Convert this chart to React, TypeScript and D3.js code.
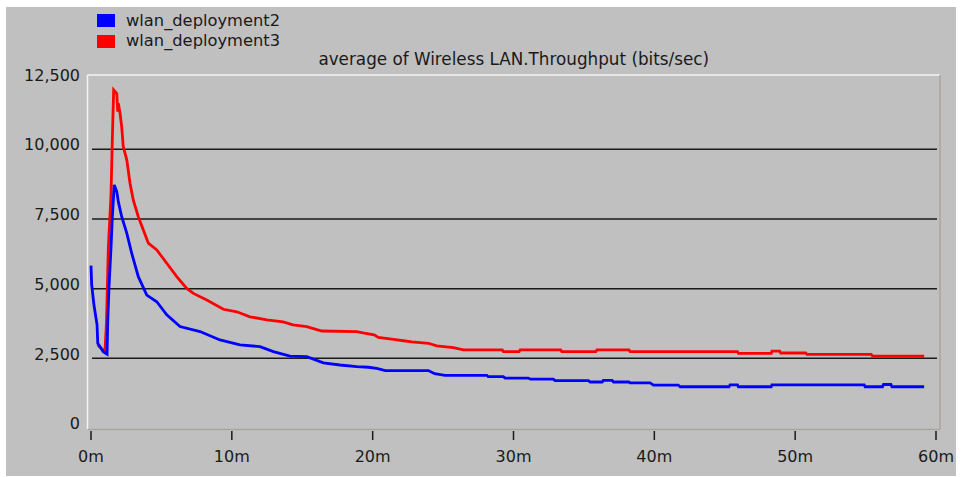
import React from 'react';
import * as d3 from 'd3';

// Throughput samples (minutes, bits/sec)
const deployment2Time = [0, 0.05, 0.21, 0.43, 0.48, 0.87, 1.14, 1.19, 1.28, 1.42, 1.51, 1.65, 1.83, 1.94, 2.18, 2.54, 2.89, 3.36, 3.96, 4.67, 5.38, 6.32, 7.74, 9.16, 10.58, 12.0, 12.95, 14.13, 15.32, 16.5, 17.68, 18.87, 19.7, 20.29, 20.9, 23.96, 24.4, 25.14, 28.1, 28.2, 29.28, 29.4, 31.06, 31.2, 32.83, 32.95, 35.32, 35.45, 36.3, 36.38, 37.0, 37.1, 38.2, 38.28, 39.7, 39.94, 41.7, 41.83, 45.3, 45.38, 45.9, 45.97, 48.3, 48.35, 54.9, 54.97, 56.2, 56.27, 56.8, 56.87, 59.16];
const deployment2Value = [5825, 5130, 4410, 3700, 3040, 2740, 2650, 3810, 5070, 6450, 7530, 8720, 8480, 8120, 7580, 6990, 6270, 5430, 4770, 4530, 4060, 3640, 3460, 3160, 2980, 2920, 2740, 2580, 2560, 2340, 2260, 2200, 2180, 2140, 2060, 2060, 1950, 1890, 1890, 1840, 1840, 1790, 1790, 1750, 1750, 1700, 1700, 1650, 1650, 1710, 1710, 1650, 1650, 1620, 1620, 1540, 1540, 1480, 1480, 1550, 1550, 1480, 1480, 1550, 1550, 1480, 1480, 1560, 1560, 1480, 1480];

const deployment3Time = [0.48, 0.99, 1.1, 1.13, 1.23, 1.42, 1.51, 1.61, 1.83, 1.9, 1.94, 2.06, 2.18, 2.29, 2.54, 2.77, 3.0, 3.36, 3.71, 4.07, 4.67, 5.38, 6.09, 6.8, 7.27, 8.22, 9.4, 10.35, 11.29, 12.48, 13.64, 14.35, 15.32, 16.39, 18.87, 19.4, 20.1, 20.41, 21.47, 22.2, 22.78, 23.96, 24.55, 25.73, 26.44, 29.2, 29.28, 30.4, 30.47, 33.35, 33.43, 35.85, 35.92, 38.2, 38.28, 45.9, 45.97, 48.3, 48.35, 48.9, 48.97, 50.75, 50.83, 55.4, 55.5, 59.16];
const deployment3Value = [2980, 2730, 3800, 4400, 6450, 8360, 10270, 12130, 12000, 11350, 11650, 11300, 10810, 10100, 9620, 8780, 8180, 7580, 7110, 6630, 6390, 5910, 5430, 5010, 4830, 4590, 4260, 4170, 3990, 3880, 3810, 3700, 3640, 3480, 3460, 3400, 3340, 3250, 3180, 3130, 3090, 3040, 2950, 2880, 2800, 2800, 2740, 2740, 2800, 2800, 2740, 2740, 2800, 2800, 2740, 2740, 2680, 2680, 2760, 2760, 2690, 2690, 2640, 2640, 2580, 2580];

const seriesNames = ['wlan_deployment2', 'wlan_deployment3'];
const seriesColors = ['#0000ff', '#ff0000'];
const yTicks = [0, 2500, 5000, 7500, 10000, 12500];
const xTicks = [0, 10, 20, 30, 40, 50, 60];
const title = 'average of Wireless LAN.Throughput (bits/sec)';

const W = 961;
const H = 477;
const font = '"DejaVu Sans", Verdana, sans-serif';

export default function App() {
  const frame = { left: 87.5, top: 75, right: 940, bottom: 429.5 };
  const x = d3.scaleLinear().domain([0, 60]).range([91, 936]);
  const y = d3.scaleLinear().domain([0, 12500]).range([428, 79.6]);

  const line = d3.line<[number, number]>()
    .x(d => x(d[0]))
    .y(d => y(d[1]));

  const blue = deployment2Time.map((t, i) => [t, deployment2Value[i]] as [number, number]);
  const red = deployment3Time.map((t, i) => [t, deployment3Value[i]] as [number, number]);

  const fmt = d3.format(',');

  return (
    <svg width={W} height={H} style={{ position: 'absolute', left: 0, top: 0, background: '#fff' }}>
      <rect x={6} y={7} width={950} height={469} fill="#c0c0c0" />

      {/* legend */}
      {seriesNames.map((name, i) => (
        <g key={name}>
          <rect x={97} y={14 + i * 21} width={18} height={13} fill={seriesColors[i]} />
          <text x={126} y={26 + i * 20} fontFamily={font} fontSize={16.3} fill="#1a1a1a">{name}</text>
        </g>
      ))}

      <text x={(frame.left + frame.right) / 2} y={65} textAnchor="middle" fontFamily={font} fontSize={16.8} fill="#1a1a1a">{title}</text>

      {/* plot frame */}
      <line x1={frame.left} x2={frame.right} y1={frame.top} y2={frame.top} stroke="#f4f4f4" strokeWidth={1.5} />
      <line x1={frame.left} x2={frame.left} y1={frame.top} y2={frame.bottom} stroke="#f4f4f4" strokeWidth={1.5} />
      <line x1={frame.right} x2={frame.right} y1={frame.top} y2={frame.bottom} stroke="#a8a69c" strokeWidth={1.5} />
      <line x1={frame.left} x2={frame.right} y1={frame.bottom} y2={frame.bottom} stroke="#a8a69c" strokeWidth={1.5} />

      {/* gridlines */}
      {yTicks.filter(v => v > 0 && v < 12500).map(v => (
        <line key={v} x1={92} x2={937} y1={y(v)} y2={y(v)} stroke="#1a1a1a" strokeWidth={1.5} />
      ))}

      {/* y labels */}
      {yTicks.map(v => (
        <text key={v} x={80} y={y(v) + 1.2} textAnchor="end" fontFamily={font} fontSize={16} fill="#1a1a1a">{fmt(v)}</text>
      ))}

      {/* x ticks */}
      {xTicks.map(t => (
        <g key={t}>
          <line x1={x(t)} x2={x(t)} y1={431} y2={440} stroke="#1a1a1a" strokeWidth={1.5} />
          <text x={x(t)} y={461.5} textAnchor="middle" fontFamily={font} fontSize={16} fill="#1a1a1a">{t}m</text>
        </g>
      ))}

      <path d={line(red) ?? ''} fill="none" stroke={seriesColors[1]} strokeWidth={2.8} strokeLinejoin="miter" />
      <path d={line(blue) ?? ''} fill="none" stroke={seriesColors[0]} strokeWidth={2.8} strokeLinejoin="miter" />
    </svg>
  );
}
